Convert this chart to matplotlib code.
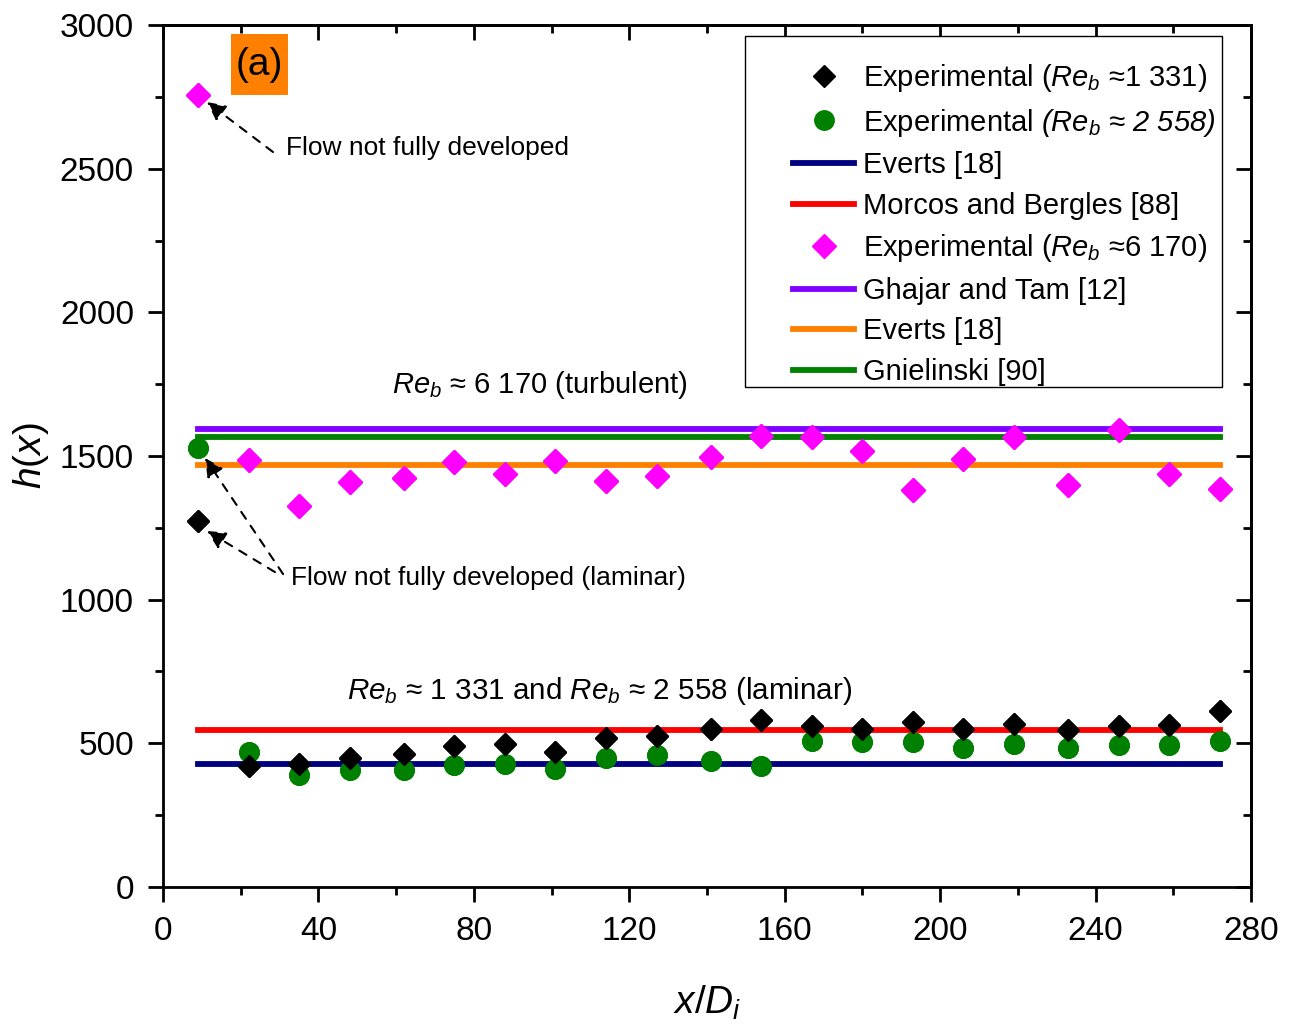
import matplotlib
matplotlib.use('Agg')
import matplotlib.pyplot as plt
from matplotlib.patches import Rectangle
import numpy as np

plt.rcParams['font.family'] = ['Liberation Sans', 'DejaVu Sans']
plt.rcParams['mathtext.fontset'] = 'custom'
plt.rcParams['mathtext.rm'] = 'Liberation Sans'
plt.rcParams['mathtext.it'] = 'Liberation Sans:italic'
# sf slot used for fully italic text (digits included)
plt.rcParams['mathtext.sf'] = 'Liberation Sans:italic'

# axial positions x/Di
x_pos = [9, 22, 35, 48, 62, 75, 88, 101, 114, 127, 141, 154, 167, 180, 193, 206, 219, 233, 246, 259, 272]

# experimental h(x)
h_1331 = [1274, 421, 428, 449, 463, 491, 498, 470, 519, 526, 550, 581, 560, 550, 574, 550, 567, 546, 560, 564, 613]
h_2558 = [1528, 470, 390, 407, 407, 425, 428, 411, 449, 459, 439, 421, 508, 505, 505, 484, 498, 484, 494, 494, 508]
h_6170 = [2757, 1486, 1326, 1410, 1424, 1479, 1437, 1483, 1413, 1431, 1497, 1570, 1566, 1518, 1382, 1490, 1566, 1399, 1591, 1437, 1385]

# correlations (constant values)
line_x = [9, 272]
everts_lam = 428
morcos = 546
ghajar = 1594
everts_turb = 1469
gnielinski = 1566

fig = plt.figure(figsize=(12.94, 10.26), dpi=100)
ax = fig.add_axes([0.126, 0.1355, 0.8408, 0.8401])

lw = 4.2
ax.plot(x_pos, h_1331, 'D', color='black', ms=11.5, ls='none', label=r'Experimental ($Re_b$ ≈1 331)')
ax.plot(x_pos, h_2558, 'o', color='#008000', ms=14, ls='none',
        label=r'Experimental $\mathsf{(Re}_\mathsf{b}\ \mathsf{≈\ 2\ 558)}$')
ax.plot(line_x, [everts_lam] * 2, color='#000080', lw=lw, label='Everts [18]')
ax.plot(line_x, [morcos] * 2, color='#FF0000', lw=lw, label='Morcos and Bergles [88]')
ax.plot(x_pos, h_6170, 'D', color='#FF00FF', ms=12, ls='none', label=r'Experimental ($Re_b$ ≈6 170)')
ax.plot(line_x, [ghajar] * 2, color='#8000FF', lw=lw, label='Ghajar and Tam [12]')
ax.plot(line_x, [everts_turb] * 2, color='#FF8000', lw=lw, label='Everts [18]')
ax.plot(line_x, [gnielinski] * 2, color='#008000', lw=lw, label='Gnielinski [90]')

# redraw markers on top of the lines
ax.plot(x_pos, h_2558, 'o', color='#008000', ms=14, ls='none', zorder=3)
ax.plot(x_pos, h_1331, 'D', color='black', ms=11.5, ls='none', zorder=3)
ax.plot(x_pos, h_6170, 'D', color='#FF00FF', ms=12, ls='none', zorder=3)

ax.set_xlim(0, 280)
ax.set_ylim(0, 3000)
ax.set_xticks(np.arange(0, 281, 40))
ax.set_xticks(np.arange(20, 281, 40), minor=True)
ax.set_yticks(np.arange(0, 3001, 500))
ax.set_yticks(np.arange(250, 3000, 500), minor=True)

ax.tick_params(which='major', direction='out', length=11, width=2, labelsize=24, pad=10)
ax.tick_params(which='minor', direction='out', length=6, width=2)
for s in ax.spines.values():
    s.set_linewidth(2)

# mirrored inward ticks on top and right
axt = ax.secondary_xaxis('top')
axt.set_xticks(np.arange(0, 281, 40))
axt.set_xticks(np.arange(20, 281, 40), minor=True)
axt.tick_params(which='major', direction='in', length=11, width=2, labeltop=False)
axt.tick_params(which='minor', direction='in', length=6, width=2)
axt.spines['top'].set_linewidth(2)
axr = ax.secondary_yaxis('right')
axr.set_yticks(np.arange(0, 3001, 500))
axr.set_yticks(np.arange(250, 3000, 500), minor=True)
axr.tick_params(which='major', direction='in', length=11, width=2, labelright=False)
axr.tick_params(which='minor', direction='in', length=6, width=2)
axr.spines['right'].set_linewidth(2)

ax.set_xlabel(r'$x/D_i$', fontsize=28, labelpad=26)
ax.set_ylabel(r'$h(x)$', fontsize=28, labelpad=6)

# panel tag in orange box
ax.add_patch(Rectangle((17.5, 2757), 14.7, 212, facecolor='#FF8000', edgecolor='none', zorder=4))
ax.text(24.85, 2860, '(a)', fontsize=28, ha='center', va='center', zorder=5)

ax.text(58.9, 1747, r'$Re_b$ ≈ 6 170 (turbulent)', fontsize=21, va='center')
ax.text(47.3, 682, r'$Re_b$ ≈ 1 331 and $Re_b$ ≈ 2 558 (laminar)', fontsize=21.3, va='center')

arrow = dict(arrowstyle='-|>', linestyle=(0, (4, 4)), color='black', lw=1.5, mutation_scale=28, shrinkA=0, shrinkB=0)
ax.annotate('', xy=(11.3, 2732), xytext=(28.3, 2558), arrowprops=arrow)
ax.text(31.7, 2572, 'Flow not fully developed', fontsize=19, va='center')
ax.annotate('', xy=(10.8, 1493), xytext=(30.9, 1089), arrowprops=arrow)
ax.annotate('', xy=(11.3, 1239), xytext=(28.8, 1096), arrowprops=arrow)
ax.text(32.9, 1075, 'Flow not fully developed (laminar)', fontsize=19, va='center')

# legend frame drawn separately so the padding matches the original
ax.add_patch(Rectangle((0.535, 0.580), 0.438, 0.407, transform=ax.transAxes,
                       facecolor='white', edgecolor='black', lw=1, zorder=4))
leg = ax.legend(loc='upper left', bbox_to_anchor=(0.579, 0.957), fontsize=21, frameon=False,
                borderaxespad=0, borderpad=0, handlelength=2.1, handletextpad=0.3,
                labelspacing=0.43)
leg.set_zorder(5)

plt.savefig('out.png', dpi=100)
